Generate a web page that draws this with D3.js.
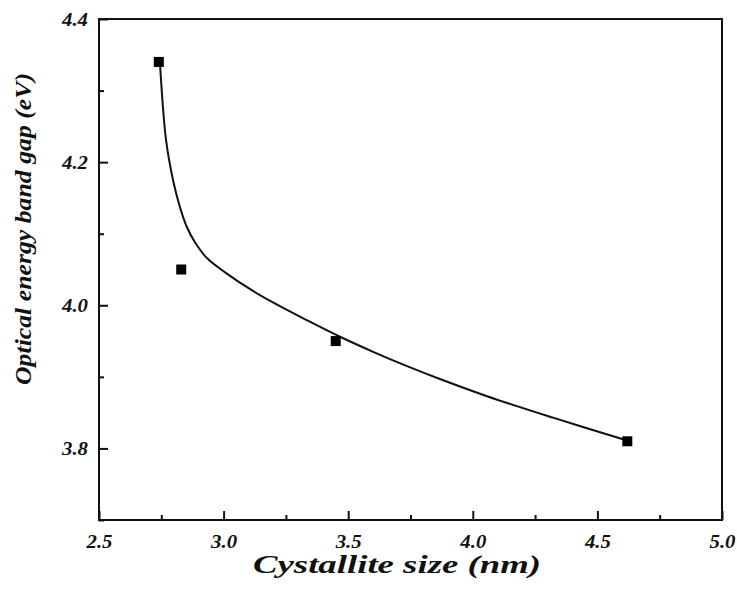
<!DOCTYPE html>
<html>
<head>
<meta charset="utf-8">
<script src="https://cdn.jsdelivr.net/npm/d3@7"></script>
<style>
  body { margin: 0; background: #fff; }
</style>
</head>
<body>
<script>
// measured points
const crystalSize = [2.74, 2.83, 3.45, 4.62]
const bandGap = [4.34, 4.05, 3.95, 3.81]

// fitted curve
const fitX = [2.745, 2.769, 2.797, 2.825, 2.853, 2.885, 2.933, 3.010, 3.118, 3.198, 3.335, 3.467, 3.600, 3.736, 3.868, 4.057, 4.322, 4.619]
const fitY = [4.336, 4.231, 4.175, 4.137, 4.109, 4.088, 4.066, 4.045, 4.020, 4.004, 3.979, 3.956, 3.935, 3.915, 3.897, 3.873, 3.843, 3.811]

const xTicks = [2.5, 3.0, 3.5, 4.0, 4.5, 5.0]
const yTicks = [3.8, 4.0, 4.2, 4.4]
const xMinor = [2.75, 3.25, 3.75, 4.25, 4.75]
const yMinor = [3.7, 3.9, 4.1, 4.3]

const WIDTH = 737
const HEIGHT = 595
const MARGIN = { LEFT: 99, RIGHT: 15, TOP: 19, BOTTOM: 75 }
const FONT = 'Liberation Serif'

const svg = d3.select('body')
  .append('svg')
  .attr('width', WIDTH)
  .attr('height', HEIGHT)

const x = d3.scaleLinear()
  .domain([2.5, 5.0])
  .range([MARGIN.LEFT, WIDTH - MARGIN.RIGHT])

const y = d3.scaleLinear()
  .domain([3.7, 4.4])
  .range([HEIGHT - MARGIN.BOTTOM, MARGIN.TOP])

// frame
svg.append('rect')
  .attr('x', x(2.5))
  .attr('y', y(4.4))
  .attr('width', x(5.0) - x(2.5))
  .attr('height', y(3.7) - y(4.4))
  .attr('fill', 'none')
  .attr('stroke', '#111')
  .attr('stroke-width', 2)

// axes, ticks pointing inward
const fmt = d3.format('.1f')
const axes = [
  svg.append('g')
    .attr('transform', `translate(0, ${y(3.7)})`)
    .call(d3.axisBottom(x).tickValues(xTicks).tickSize(-9).tickPadding(15).tickFormat(fmt)),
  svg.append('g')
    .attr('transform', `translate(0, ${y(3.7)})`)
    .call(d3.axisBottom(x).tickValues(xMinor).tickSize(-5).tickFormat('')),
  svg.append('g')
    .attr('transform', `translate(${x(2.5)}, 0)`)
    .call(d3.axisLeft(y).tickValues(yTicks).tickSize(-9).tickPadding(11).tickFormat(fmt)),
  svg.append('g')
    .attr('transform', `translate(${x(2.5)}, 0)`)
    .call(d3.axisLeft(y).tickValues(yMinor).tickSize(-5).tickFormat(''))
]
axes.forEach(g => {
  g.attr('font-family', FONT)
    .attr('font-size', 19)
    .attr('font-weight', 'bold')
    .attr('font-style', 'italic')
  g.select('.domain').remove()
  g.selectAll('.tick line').attr('stroke', '#111').attr('stroke-width', 2)
  g.selectAll('.tick text')
    .attr('fill', '#111')
    .attr('font-size', 19)
    .attr('textLength', 26)
    .attr('lengthAdjust', 'spacingAndGlyphs')
})

// fitted curve
const fitData = fitX.map((d, i) => [d, fitY[i]])
svg.append('path')
  .datum(fitData)
  .attr('fill', 'none')
  .attr('stroke', '#111')
  .attr('stroke-width', 2)
  .attr('d', d3.line()
    .x(d => x(d[0]))
    .y(d => y(d[1]))
    .curve(d3.curveCatmullRom.alpha(0.5)))

// markers
const MS = 10
svg.append('g')
  .selectAll('rect')
  .data(crystalSize.map((d, i) => [d, bandGap[i]]))
  .enter()
  .append('rect')
  .attr('x', d => x(d[0]) - MS / 2)
  .attr('y', d => y(d[1]) - MS / 2)
  .attr('width', MS)
  .attr('height', MS)
  .attr('fill', '#000')

// axis titles
svg.append('text')
  .text('Cystallite size (nm)')
  .attr('x', 397)
  .attr('y', 573)
  .attr('text-anchor', 'middle')
  .attr('textLength', 288)
  .attr('lengthAdjust', 'spacingAndGlyphs')
  .attr('fill', '#111')
  .attr('font-family', FONT)
  .attr('font-size', 25)
  .attr('font-weight', 'bold')
  .attr('font-style', 'italic')

svg.append('text')
  .text('Optical energy band gap (eV)')
  .attr('transform', 'translate(31, 229) rotate(-90)')
  .attr('text-anchor', 'middle')
  .attr('textLength', 312)
  .attr('lengthAdjust', 'spacingAndGlyphs')
  .attr('fill', '#111')
  .attr('font-family', FONT)
  .attr('font-size', 23)
  .attr('font-weight', 'bold')
  .attr('font-style', 'italic')
</script>
</body>
</html>
